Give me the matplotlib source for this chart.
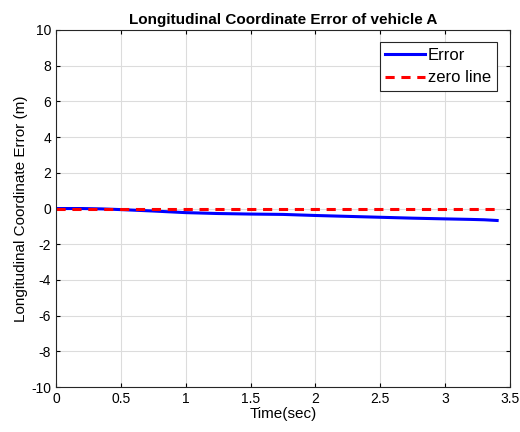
import matplotlib

matplotlib.use("Agg")
import matplotlib.pyplot as plt  # noqa: E402

plt.rcParams["font.family"] = ["Liberation Sans", "DejaVu Sans"]
plt.rcParams["axes.unicode_minus"] = False

# error curve
t = [0.0, 0.2, 0.35, 0.5, 0.75, 1.0, 1.25, 1.5, 1.75, 2.0, 2.25, 2.5, 2.75, 3.0, 3.2, 3.3, 3.4]
err = [0.0, 0.0, -0.02, -0.06, -0.14, -0.23, -0.28, -0.31, -0.33, -0.39, -0.44, -0.49, -0.54, -0.58, -0.61, -0.63, -0.67]
zero_t = [0.0, 3.4]
zero_v = [0.0, 0.0]

fig = plt.figure(figsize=(5.2, 4.32), dpi=100)
ax = fig.add_axes([0.1077, 0.104, 0.8733, 0.8266])

ax.plot(t, err, color="#0000ff", linewidth=2.2, label="Error")
ax.plot(zero_t, zero_v, color="#ff0000", linewidth=2.2, linestyle=(0, (3, 2.2)), label="zero line")

ax.set_xlim(0, 3.5)
ax.set_ylim(-10, 10)
ax.set_xticks([0, 0.5, 1, 1.5, 2, 2.5, 3, 3.5])
ax.set_xticklabels(["0", "0.5", "1", "1.5", "2", "2.5", "3", "3.5"])
ax.set_yticks(range(-10, 11, 2))
ax.grid(True, color="#dcdcdc", linewidth=0.8)
ax.set_axisbelow(True)
ax.tick_params(direction="in", labelsize=10, length=3, top=True, right=True)
for s in ax.spines.values():
    s.set_color("#262626")
    s.set_linewidth(0.8)

ax.set_title("Longitudinal Coordinate Error of vehicle A", fontsize=11, fontweight="bold", pad=4)
ax.set_xlabel("Time(sec)", fontsize=11, labelpad=1)
ax.set_ylabel("Longitudinal Coordinate Error (m)", fontsize=11, labelpad=2)

leg = ax.legend(loc="upper right", bbox_to_anchor=(0.971, 0.966), fontsize=12, fancybox=False,
                framealpha=1, edgecolor="#262626", borderpad=0.35, handlelength=2.35,
                handletextpad=0.2, labelspacing=0.45, borderaxespad=0)
leg.get_frame().set_linewidth(0.8)

fig.savefig("out.png", dpi=100)
